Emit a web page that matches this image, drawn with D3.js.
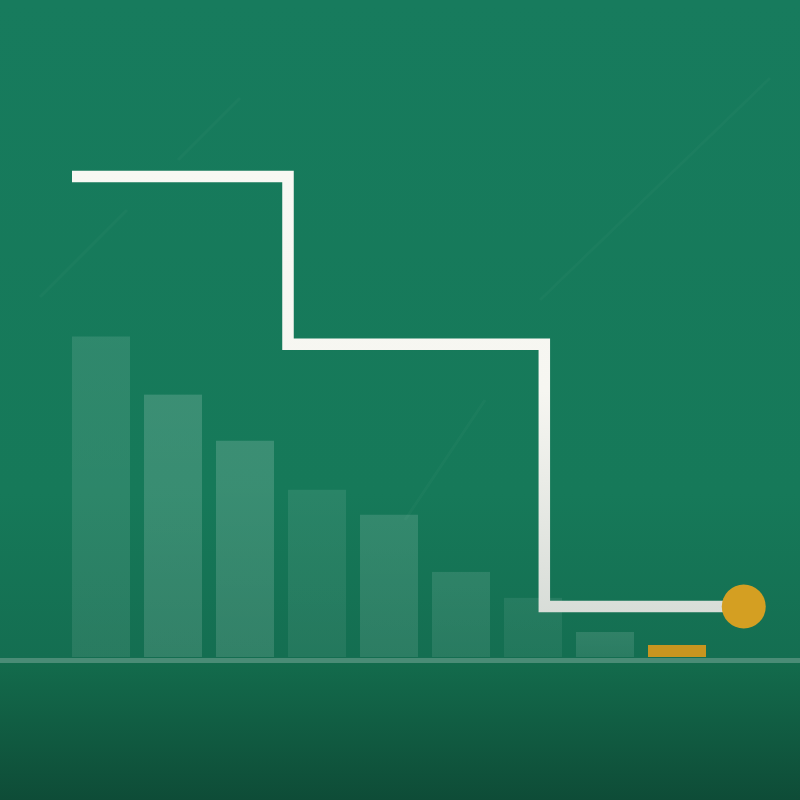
<!DOCTYPE html>
<html>
<head>
<meta charset="utf-8">
<script src="https://cdn.jsdelivr.net/npm/d3@7"></script>
<style>
html,body{margin:0;padding:0;background:#177A5C;}
svg{display:block;}
</style>
</head>
<body>
<svg id="chart" width="800" height="800"></svg>
<script>
// ---- data ----
const categories = ["1","2","3","4","5","6","7","8","9"];
const barValues = [66.7, 54.6, 45.0, 34.8, 29.6, 17.7, 12.3, 5.2, 2.5];
const stepX = [0, 3, 6.56, 9.33];
const stepY = [100, 65.1, 10.5, 10.5];

// ---- style ----
const barOpacity = [0.11, 0.16, 0.16, 0.085, 0.13, 0.11, 0.075, 0.12, 1];

const W = 800, H = 800;
const svg = d3.select("#chart");
const defs = svg.append("defs");

const bgTop = defs.append("linearGradient").attr("id","bgTop")
  .attr("gradientUnits","userSpaceOnUse").attr("x1",0).attr("y1",0).attr("x2",0).attr("y2",658);
bgTop.append("stop").attr("offset",0).attr("stop-color","#177B5D");
bgTop.append("stop").attr("offset",0.75).attr("stop-color","#167959");
bgTop.append("stop").attr("offset",1).attr("stop-color","#146E51");

const bgBot = defs.append("linearGradient").attr("id","bgBot")
  .attr("gradientUnits","userSpaceOnUse").attr("x1",0).attr("y1",663).attr("x2",0).attr("y2",800);
bgBot.append("stop").attr("offset",0).attr("stop-color","#136B4C");
bgBot.append("stop").attr("offset",1).attr("stop-color","#0E4C37");

const lineGrad = defs.append("linearGradient").attr("id","lineGrad")
  .attr("gradientUnits","userSpaceOnUse").attr("x1",0).attr("y1",170).attr("x2",0).attr("y2",612);
lineGrad.append("stop").attr("offset",0).attr("stop-color","#F8F8F3");
lineGrad.append("stop").attr("offset",0.5).attr("stop-color","#F6F6F1");
lineGrad.append("stop").attr("offset",1).attr("stop-color","#D8DDD8");

const barGrad = defs.append("linearGradient").attr("id","barGrad")
  .attr("x1",0).attr("y1",0).attr("x2",0).attr("y2",1);
barGrad.append("stop").attr("offset",0).attr("stop-color","#ffffff").attr("stop-opacity",1);
barGrad.append("stop").attr("offset",1).attr("stop-color","#ffffff").attr("stop-opacity",0.8);

svg.append("rect").attr("x",0).attr("y",0).attr("width",W).attr("height",660).attr("fill","url(#bgTop)");
svg.append("rect").attr("x",0).attr("y",660).attr("width",W).attr("height",140).attr("fill","url(#bgBot)");

// faint diagonal decoration lines
const deco = [[40,297,127,210],[178,160,240,98],[540,300,770,78],[405,520,485,400]];
svg.append("g").selectAll("line").data(deco).join("line")
  .attr("x1",d=>d[0]).attr("y1",d=>d[1]).attr("x2",d=>d[2]).attr("y2",d=>d[3])
  .attr("stroke","#ffffff").attr("stroke-opacity",0.025).attr("stroke-width",3);

// scales
const x = d3.scaleBand().domain(categories).range([72, 706]).paddingInner(14/72).paddingOuter(0);
const y = d3.scaleLinear().domain([0, 100]).range([657, 176.5]);
const xl = d3.scaleLinear().domain([0, 9]).range([72, 720]);

// bars
svg.append("g").selectAll("rect").data(barValues).join("rect")
  .attr("x",(d,i)=>x(categories[i]))
  .attr("y",d=>y(d))
  .attr("width",x.bandwidth())
  .attr("height",d=>y(0)-y(d))
  .attr("fill",(d,i)=> i===categories.length-1 ? "#C8951F" : "url(#barGrad)")
  .attr("fill-opacity",(d,i)=>barOpacity[i]);

// baseline
svg.append("line").attr("x1",0).attr("x2",W).attr("y1",660.5).attr("y2",660.5)
  .attr("stroke","#4A8C76").attr("stroke-width",5);

// step line
const pts = stepX.map((v,i)=>[v, stepY[i]]);
const line = d3.line().x(d=>xl(d[0])).y(d=>y(d[1])).curve(d3.curveStepAfter);
svg.append("path").datum(pts).attr("d",line)
  .attr("fill","none").attr("stroke","url(#lineGrad)")
  .attr("stroke-width",11.5).attr("stroke-linejoin","miter").attr("stroke-linecap","butt");

// end dot
const last = pts[pts.length-1];
svg.append("circle").attr("cx",xl(last[0])).attr("cy",y(last[1])).attr("r",22)
  .attr("fill","#D49F22");
</script>
</body>
</html>
